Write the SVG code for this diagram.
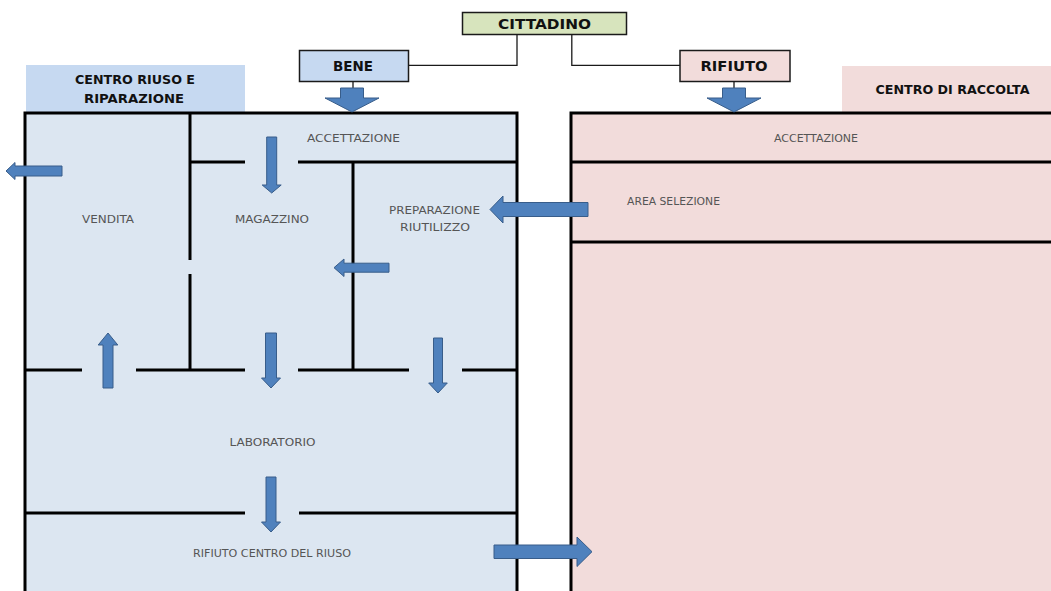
<svg xmlns="http://www.w3.org/2000/svg" width="1051" height="591" viewBox="0 0 1051 591">
<style>
.wall{stroke:#000;stroke-width:3;fill:none}
.conn{stroke:#1a1a1a;stroke-width:1.3;fill:none}
.blk{fill:#4f81bd;stroke:#385d8a;stroke-width:1;stroke-linejoin:miter}
.box{stroke:#1a1a1a;stroke-width:1.5}
.tb{font-family:"DejaVu Sans",Verdana,sans-serif;font-weight:bold;fill:#111;text-anchor:middle}
.tl{font-family:"DejaVu Sans",Verdana,sans-serif;fill:#555;text-anchor:middle;font-size:11px}
</style>
<rect width="1051" height="591" fill="#fff"/>

<g id="centro-riuso">
<rect x="26" y="65" width="219" height="48" fill="#c6d9f1"/>
<text class="tb" x="135" y="84" font-size="12.5" textLength="120" lengthAdjust="spacingAndGlyphs">CENTRO RIUSO E</text>
<text class="tb" x="134" y="103" font-size="12.5" textLength="100" lengthAdjust="spacingAndGlyphs">RIPARAZIONE</text>
<rect x="25" y="113" width="492" height="490" fill="#dce6f1"/>
<rect x="25" y="113" width="492" height="490" class="wall"/>
<path class="wall" d="M190 113V260M190 274V370M190 162H245M298 162H517M353 162V370M25 370H82M136 370H245M298 370H409M462 370H517M25 513H245M299 513H517"/>
</g>

<g id="centro-raccolta">
<rect x="842" y="66" width="209" height="47" fill="#f2dcdb"/>
<text class="tb" x="952.5" y="94" font-size="12.5" textLength="154" lengthAdjust="spacingAndGlyphs">CENTRO DI RACCOLTA</text>
<rect x="571" y="113" width="500" height="490" fill="#f2dcdb"/>
<rect x="571" y="113" width="500" height="490" class="wall"/>
<path class="wall" d="M571 162H1051M571 242H1051"/>
</g>

<g id="room-accettazione-riuso"><text class="tl" x="353.5" y="142" textLength="93" lengthAdjust="spacingAndGlyphs">ACCETTAZIONE</text></g>
<g id="room-vendita"><text class="tl" x="108" y="223" textLength="52" lengthAdjust="spacingAndGlyphs">VENDITA</text></g>
<g id="room-magazzino"><text class="tl" x="272" y="223" textLength="74" lengthAdjust="spacingAndGlyphs">MAGAZZINO</text></g>
<g id="room-preparazione"><text class="tl" x="434.5" y="214" textLength="91" lengthAdjust="spacingAndGlyphs">PREPARAZIONE</text><text class="tl" x="435" y="231" textLength="70" lengthAdjust="spacingAndGlyphs">RIUTILIZZO</text></g>
<g id="room-laboratorio"><text class="tl" x="272.5" y="446" textLength="86" lengthAdjust="spacingAndGlyphs">LABORATORIO</text></g>
<g id="room-rifiuto-riuso"><text class="tl" x="272" y="556.5" textLength="158" lengthAdjust="spacingAndGlyphs">RIFIUTO CENTRO DEL RIUSO</text></g>
<g id="room-accettazione-raccolta"><text class="tl" x="816" y="142" font-size="10" textLength="84" lengthAdjust="spacingAndGlyphs">ACCETTAZIONE</text></g>
<g id="room-area-selezione"><text class="tl" x="673.5" y="205" font-size="10" textLength="93" lengthAdjust="spacingAndGlyphs">AREA SELEZIONE</text></g>

<g id="cittadino">
<rect class="box" x="462.5" y="12.5" width="164" height="22" fill="#d7e4bd"/>
<text class="tb" x="544.5" y="28.5" font-size="14" textLength="93" lengthAdjust="spacingAndGlyphs">CITTADINO</text>
</g>
<g id="bene">
<rect class="box" x="299.5" y="50.5" width="109" height="31" fill="#c6d9f1"/>
<text class="tb" x="353" y="71" font-size="14" textLength="40" lengthAdjust="spacingAndGlyphs">BENE</text>
</g>
<g id="rifiuto">
<rect class="box" x="680" y="50.5" width="110" height="31" fill="#f2dcdb"/>
<text class="tb" x="734" y="71" font-size="14" textLength="67" lengthAdjust="spacingAndGlyphs">RIFIUTO</text>
</g>

<g id="connectors">
<path class="conn" d="M517 34.5V65.3H408.5M571.8 34.5V65.3H680M353 81.5V89M734 81.5V89"/>
<polygon class="blk" points="340.5,88 363.5,88 363.5,98 379,98 352,112 325,98 340.5,98"/>
<polygon class="blk" points="722.5,88 745.5,88 745.5,98 761,98 734,112 707,98 722.5,98"/>
<polygon class="blk" points="62,166 15,166 15,162.5 6,171 15,179.5 15,176 62,176"/>
<polygon class="blk" points="266.7,137 276.7,137 276.7,185 281.2,185 271.7,193 262.2,185 266.7,185"/>
<polygon class="blk" points="588,202.5 503,202.5 503,196 490,209.5 503,223 503,216.5 588,216.5"/>
<polygon class="blk" points="389,263.2 344,263.2 344,259 334,267.7 344,276.5 344,272.2 389,272.2"/>
<polygon class="blk" points="103,388 103,345 98.2,345 108,333 117.8,345 113,345 113,388"/>
<polygon class="blk" points="265.5,333 276.5,333 276.5,378 280.5,378 271,388 261.5,378 265.5,378"/>
<polygon class="blk" points="433.5,338 442.5,338 442.5,383 447.3,383 438,393 428.7,383 433.5,383"/>
<polygon class="blk" points="266,477 276,477 276,522 280.5,522 271,532 261.5,522 266,522"/>
<polygon class="blk" points="494,545 577,545 577,537 592,551.7 577,566.5 577,558.5 494,558.5"/>
</g>
</svg>
